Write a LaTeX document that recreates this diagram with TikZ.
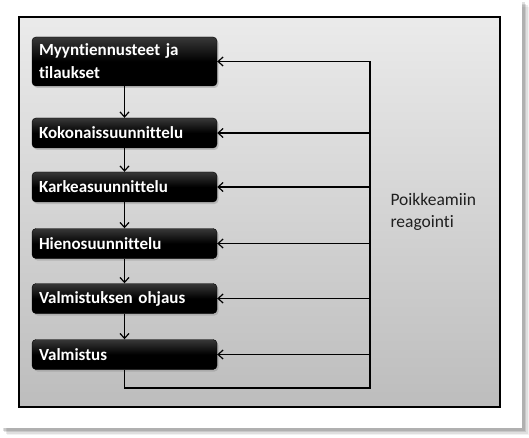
\documentclass[tikz,border=0pt]{standalone}
\usepackage{fontspec}
\setmainfont[Ligatures=NoCommon]{Carlito}
\usetikzlibrary{arrows.meta,shadows}
\begin{document}
\begin{tikzpicture}[x=1pt,y=-1pt,
  stepbox/.style={rounded corners=4pt, top color=black!78, bottom color=black, middle color=black,
    draw=black, line width=0.4pt, text=white, font=\bfseries\fontsize{17}{23}\selectfont,
    minimum width=185pt, text width=171pt, inner xsep=7pt, align=left, anchor=center,
    drop shadow={shadow xshift=1.5pt, shadow yshift=-2pt, opacity=0.35}},
  arr/.style={-{Straight Barb[length=5pt,width=9pt,line width=1.2pt]}, line width=1.2pt},
  bus/.style={line width=1.2pt},
  lbl/.style={font=\fontsize{17.5}{22}\selectfont, text=black!88, align=left, anchor=west}]
\useasboundingbox (0,0) rectangle (529,438);
% card shadow
\foreach \o/\a in {7/0.05,5.5/0.08,4/0.1,2.5/0.12}{
  \fill[black, opacity=\a] (\o,\o) rectangle (522+\o,428+\o);
}
\fill[white] (0,0) rectangle (522,428);
% grey panel
\shade[top color=black!8, bottom color=black!26] (19,17) rectangle (500,407);
\draw[line width=1.4pt] (19,17) rectangle (500,407);
% boxes
\node[stepbox, minimum height=49pt] (b1) at (124.5,61.5) {Myyntiennusteet ja\\tilaukset};
\node[stepbox, minimum height=30pt] (b2) at (124.5,133) {Kokonaissuunnittelu};
\node[stepbox, minimum height=30pt] (b3) at (124.5,187) {Karkeasuunnittelu};
\node[stepbox, minimum height=30pt] (b4) at (124.5,243.5) {Hienosuunnittelu};
\node[stepbox, minimum height=30pt] (b5) at (124.5,298.5) {Valmistuksen ohjaus};
\node[stepbox, minimum height=30pt] (b6) at (124.5,354.5) {Valmistus};
% downward arrows
\draw[arr] (b1) -- (b2);
\draw[arr] (b2) -- (b3);
\draw[arr] (b3) -- (b4);
\draw[arr] (b4) -- (b5);
\draw[arr] (b5) -- (b6);
% feedback bus
\coordinate (busT) at (370,61.5);
\coordinate (busB) at (370,388);
\draw[bus] (b6.south) |- (busB) -- (busT);
\foreach \b in {b1,b2,b3,b4,b5,b6}{
  \draw[arr] (busT |- \b.east) -- (\b.east);
}
\node[lbl] (lab) at (387,212) {Poikkeamiin\\reagointi};
\end{tikzpicture}
\end{document}
